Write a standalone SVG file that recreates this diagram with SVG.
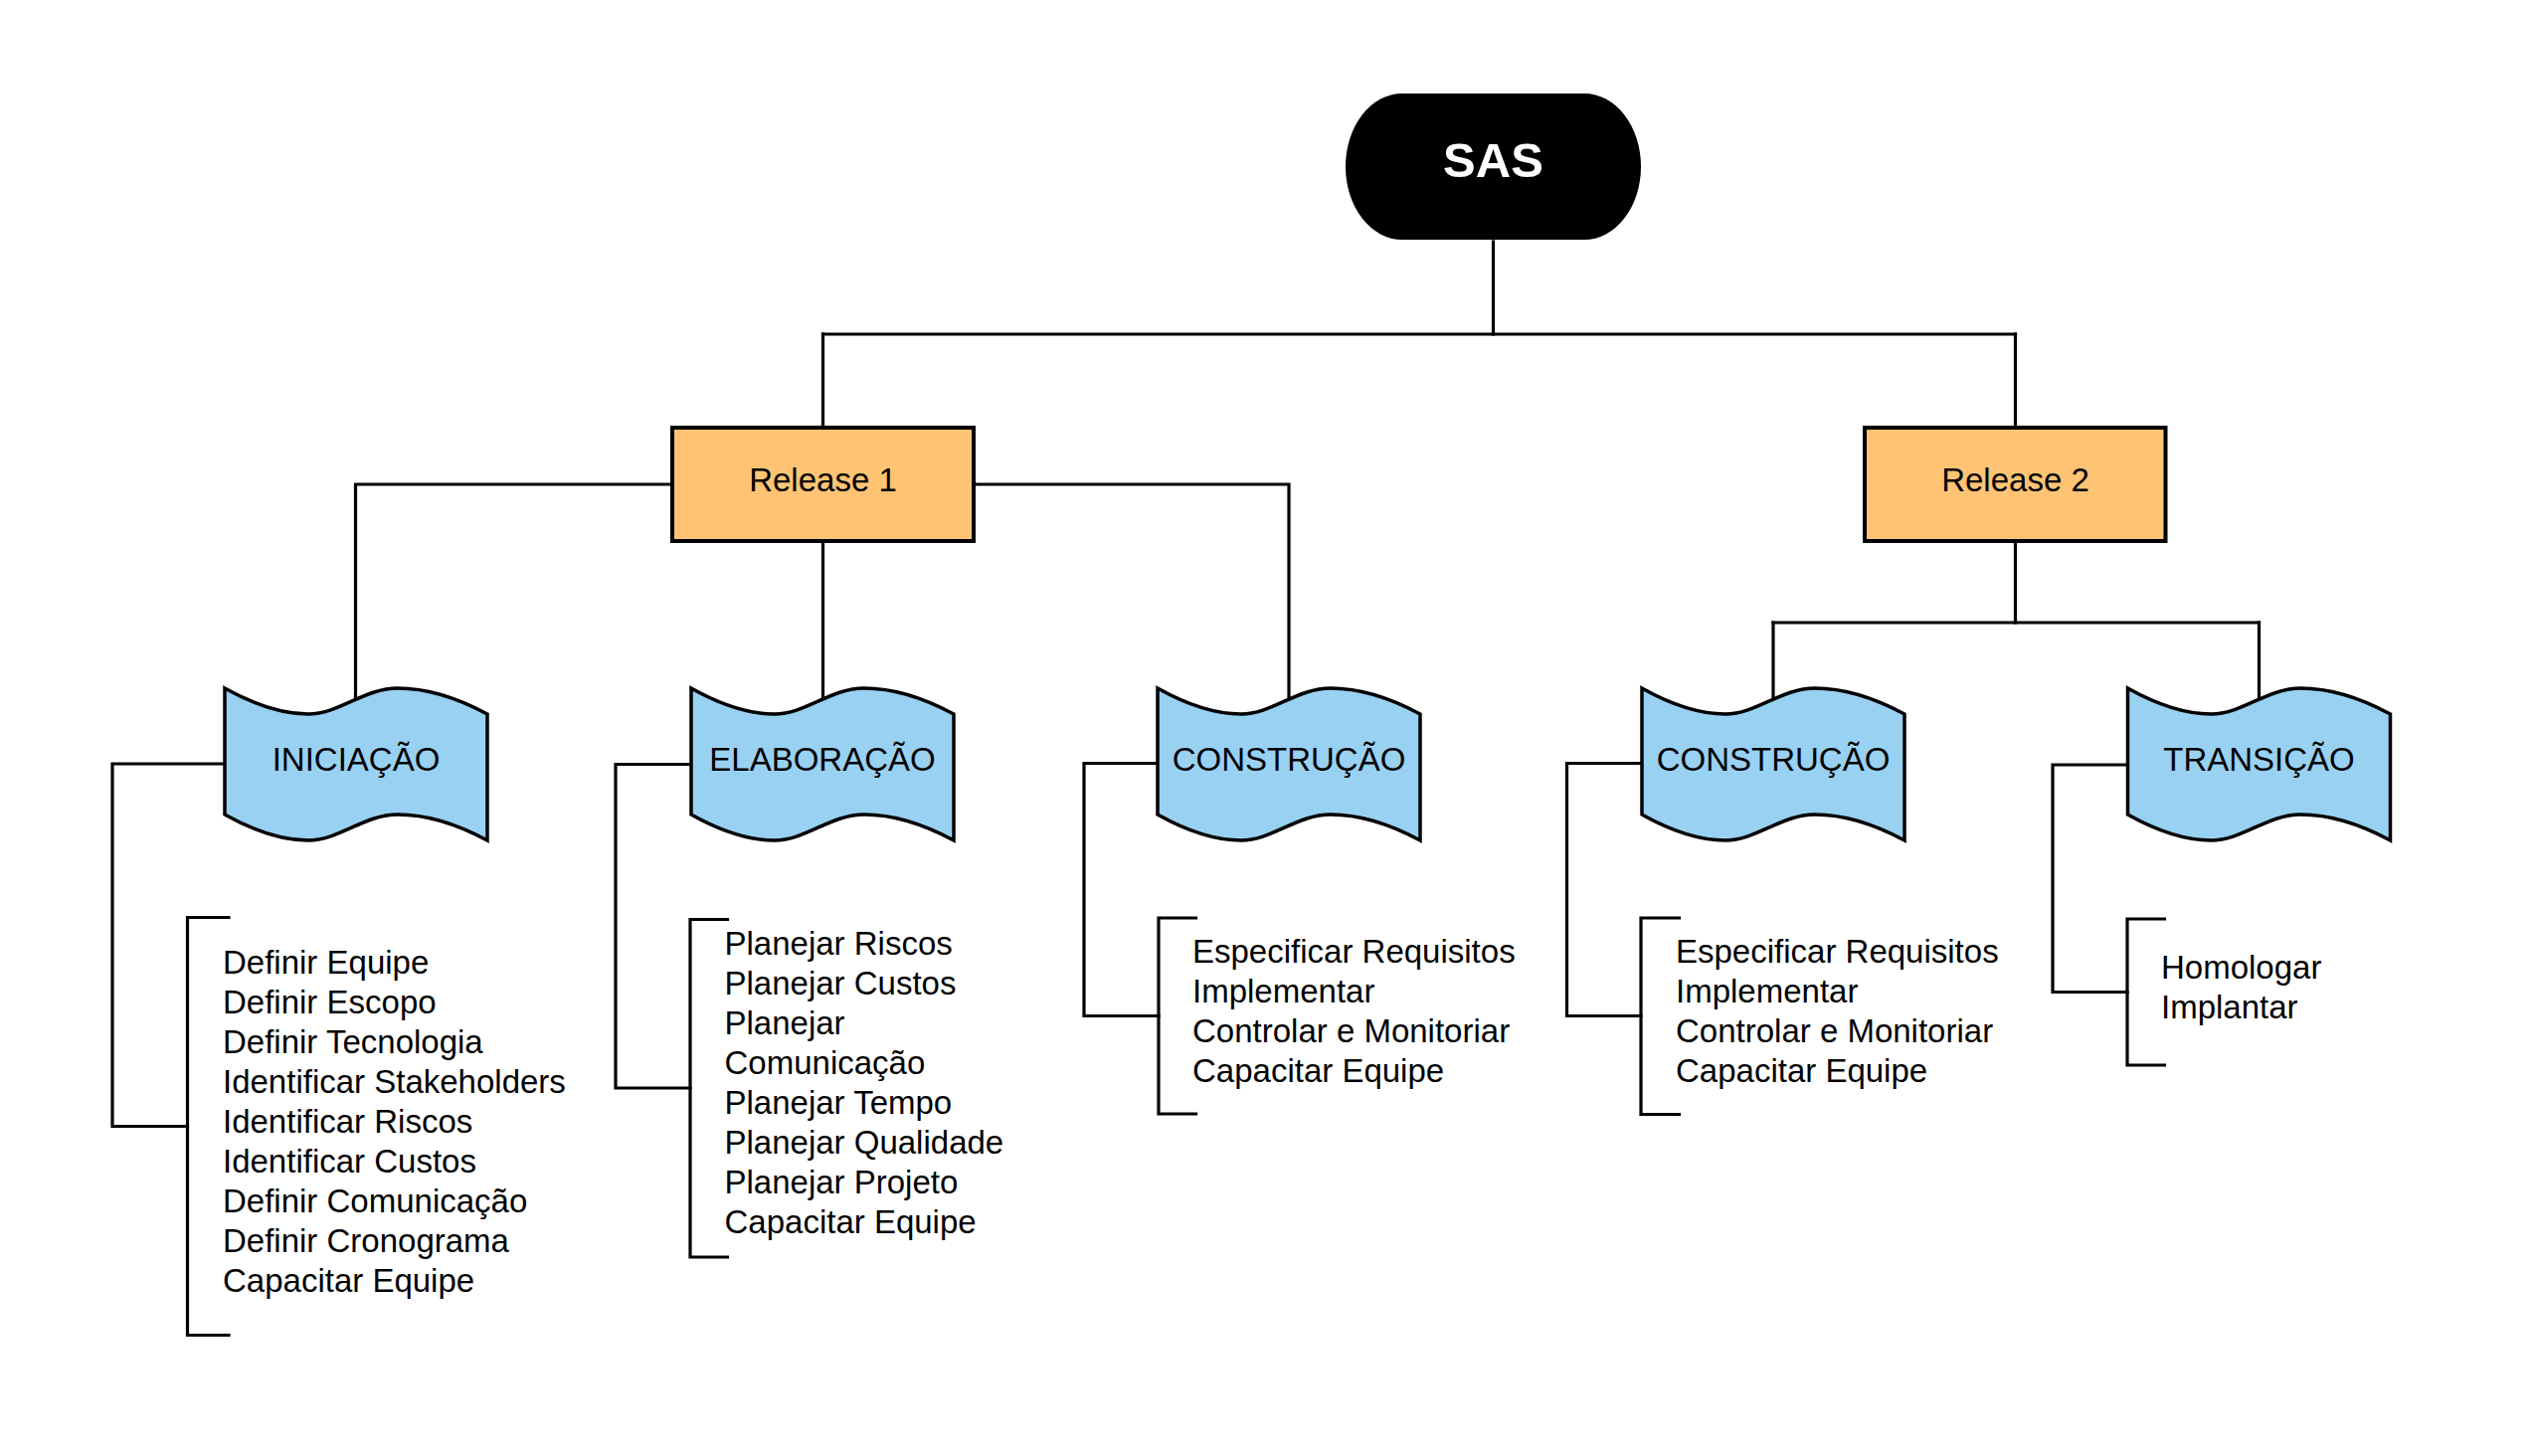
<svg xmlns="http://www.w3.org/2000/svg" xmlns:xlink="http://www.w3.org/1999/xlink" width="2550" height="1464" viewBox="0 0 2550 1464">
<style>
.ln{fill:none;stroke:#000;stroke-width:3.2;stroke-linecap:square}
.tape{fill:#99D1F3;stroke:#000;stroke-width:3.5}
.box{fill:#FEC474;stroke:#000;stroke-width:4}
.t{font-family:"Liberation Sans",Arial,sans-serif;font-size:33px;fill:#000}
.c{text-anchor:middle}
.sas{font-family:"Liberation Sans",Arial,sans-serif;font-size:49px;font-weight:bold;fill:#fff;text-anchor:middle}
</style>
<defs>
<path id="tapeShape" d="M0,0 C25,14 55,26 84,26 C115,26 140,0 174,0 C205,0 238,12 264,26 L264,153 C238,139 205,127 174,127 C140,127 115,153 84,153 C55,153 25,141 0,127 Z"/>
</defs>
<rect width="2550" height="1464" fill="#fff"/>
<g id="connectors">
<path class="ln" d="M1501.5,243 V336"/>
<path class="ln" d="M827.5,336 H2026.5"/>
<path class="ln" d="M827.5,336 V430"/>
<path class="ln" d="M2026.5,336 V430"/>
<path class="ln" d="M676,487 H357.5 V712"/>
<path class="ln" d="M827.5,544 V712"/>
<path class="ln" d="M979,487 H1296 V712"/>
<path class="ln" d="M2026.5,544 V626"/>
<path class="ln" d="M1783,626 H2271.5"/>
<path class="ln" d="M1783,626 V712"/>
<path class="ln" d="M2271.5,626 V712"/>
<path class="ln" d="M226,768 H113 V1132.5 H188.5"/>
<path class="ln" d="M695,768.5 H619 V1094 H694"/>
<path class="ln" d="M1164,767.5 H1090 V1021.5 H1165"/>
<path class="ln" d="M1651,767.5 H1575.5 V1021.5 H1650"/>
<path class="ln" d="M2139.5,769 H2064 V997.5 H2139"/>
</g>
<g id="sas">
<rect x="1353" y="94" width="297" height="147" rx="57" ry="73.5" fill="#000"/>
<text class="sas" x="1501.5" y="177.5">SAS</text>
</g>
<g id="release1">
<rect class="box" x="676" y="430" width="303" height="114"/>
<text class="t c" x="827.5" y="494">Release 1</text>
</g>
<g id="release2">
<rect class="box" x="1875" y="430" width="302.5" height="114"/>
<text class="t c" x="2026.5" y="494">Release 2</text>
</g>
<g id="iniciacao">
<use xlink:href="#tapeShape" href="#tapeShape" class="tape" transform="translate(226,692)"/>
<text class="t c" x="358" y="774.5">INICIAÇÃO</text>
</g>
<g id="elaboracao">
<use xlink:href="#tapeShape" href="#tapeShape" class="tape" transform="translate(695,692)"/>
<text class="t c" x="827" y="774.5">ELABORAÇÃO</text>
</g>
<g id="construcao1">
<use xlink:href="#tapeShape" href="#tapeShape" class="tape" transform="translate(1164,692)"/>
<text class="t c" x="1296" y="774.5">CONSTRUÇÃO</text>
</g>
<g id="construcao2">
<use xlink:href="#tapeShape" href="#tapeShape" class="tape" transform="translate(1651,692)"/>
<text class="t c" x="1783" y="774.5">CONSTRUÇÃO</text>
</g>
<g id="transicao">
<use xlink:href="#tapeShape" href="#tapeShape" class="tape" transform="translate(2139.5,692)"/>
<text class="t c" x="2271.5" y="774.5">TRANSIÇÃO</text>
</g>
<g id="lista-iniciacao">
<path class="ln" d="M230,922.5 H188.5 V1342.5 H230"/>
<text class="t" x="224" y="979">Definir Equipe</text>
<text class="t" x="224" y="1019">Definir Escopo</text>
<text class="t" x="224" y="1059">Definir Tecnologia</text>
<text class="t" x="224" y="1099">Identificar Stakeholders</text>
<text class="t" x="224" y="1139">Identificar Riscos</text>
<text class="t" x="224" y="1179">Identificar Custos</text>
<text class="t" x="224" y="1219">Definir Comunicação</text>
<text class="t" x="224" y="1259">Definir Cronograma</text>
<text class="t" x="224" y="1299">Capacitar Equipe</text>
</g>
<g id="lista-elaboracao">
<path class="ln" d="M731.5,924.5 H694 V1264 H731.5"/>
<text class="t" x="728.5" y="960">Planejar Riscos</text>
<text class="t" x="728.5" y="1000">Planejar Custos</text>
<text class="t" x="728.5" y="1040">Planejar</text>
<text class="t" x="728.5" y="1080">Comunicação</text>
<text class="t" x="728.5" y="1120">Planejar Tempo</text>
<text class="t" x="728.5" y="1160">Planejar Qualidade</text>
<text class="t" x="728.5" y="1200">Planejar Projeto</text>
<text class="t" x="728.5" y="1240">Capacitar Equipe</text>
</g>
<g id="lista-construcao1">
<path class="ln" d="M1202.5,923 H1165 V1120 H1202.5"/>
<text class="t" x="1199" y="968">Especificar Requisitos</text>
<text class="t" x="1199" y="1008">Implementar</text>
<text class="t" x="1199" y="1048">Controlar e Monitoriar</text>
<text class="t" x="1199" y="1088">Capacitar Equipe</text>
</g>
<g id="lista-construcao2">
<path class="ln" d="M1688.5,923 H1650 V1120.5 H1688.5"/>
<text class="t" x="1685" y="968">Especificar Requisitos</text>
<text class="t" x="1685" y="1008">Implementar</text>
<text class="t" x="1685" y="1048">Controlar e Monitoriar</text>
<text class="t" x="1685" y="1088">Capacitar Equipe</text>
</g>
<g id="lista-transicao">
<path class="ln" d="M2176.5,924 H2139 V1071 H2176.5"/>
<text class="t" x="2173" y="983.5">Homologar</text>
<text class="t" x="2173" y="1023.5">Implantar</text>
</g>
</svg>
